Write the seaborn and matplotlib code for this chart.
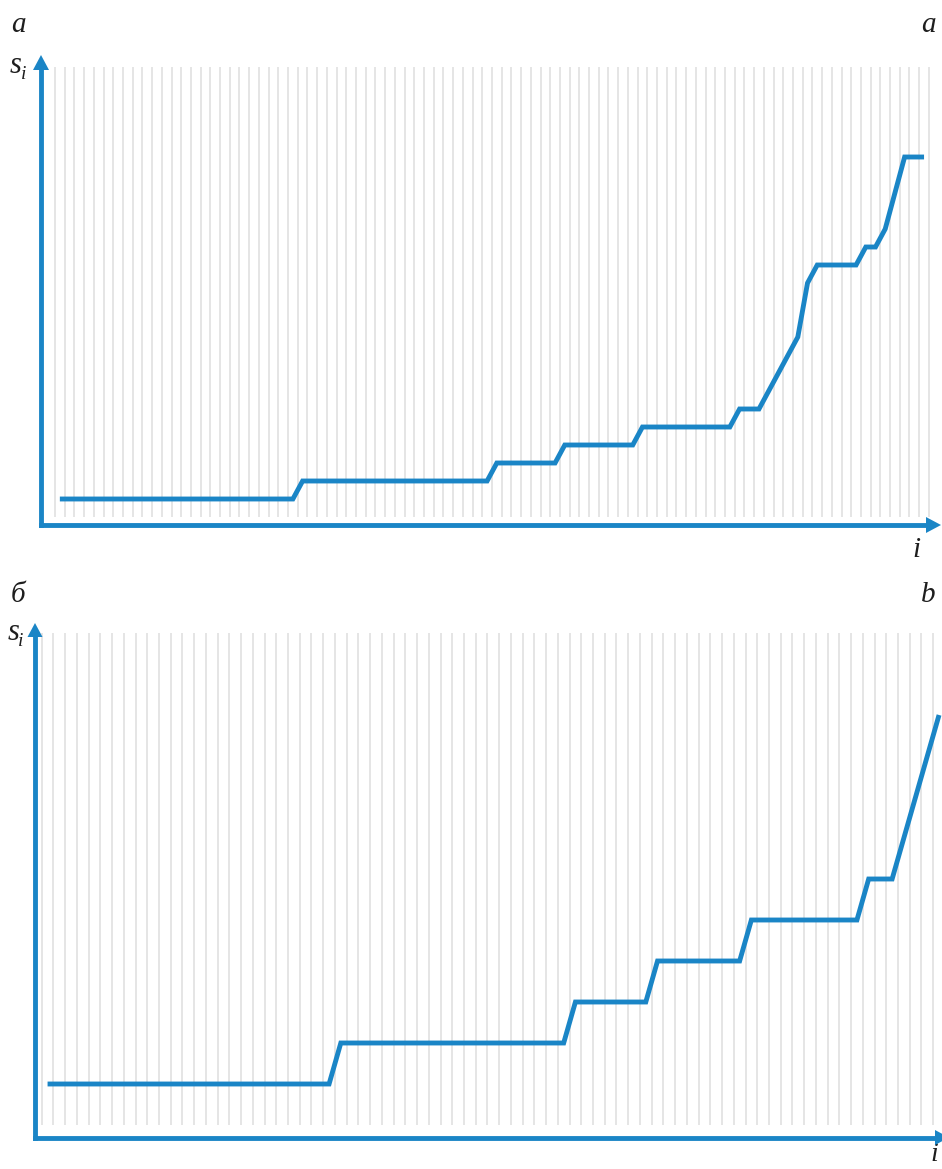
import numpy as np
import pandas as pd
import matplotlib
matplotlib.use("Agg")
import matplotlib.pyplot as plt
import seaborn as sns
from matplotlib.patches import Polygon

# Sorted sequence s_i (in level units), panel "а / a"
s_a = [0, 0, 0, 0, 0, 0, 0, 0, 0, 0,
       0, 0, 0, 0, 0, 0, 0, 0, 0, 0,
       0, 0, 0, 0, 0, 1, 1, 1, 1, 1,
       1, 1, 1, 1, 1, 1, 1, 1, 1, 1,
       1, 1, 1, 1, 1, 2, 2, 2, 2, 2,
       2, 2, 3, 3, 3, 3, 3, 3, 3, 3,
       4, 4, 4, 4, 4, 4, 4, 4, 4, 4,
       5, 5, 5, 6, 7, 8, 9, 12, 13, 13,
       13, 13, 13, 14, 14, 15, 17, 19, 19, 19]

# Sorted sequence s_i, panel "б / b"
s_b = [0, 0, 0, 0, 0, 0, 0, 0, 0, 0,
       0, 0, 0, 0, 0, 0, 0, 0, 0, 0,
       0, 0, 0, 0, 0, 1, 1, 1, 1, 1,
       1, 1, 1, 1, 1, 1, 1, 1, 1, 1,
       1, 1, 1, 1, 1, 2, 2, 2, 2, 2,
       2, 2, 3, 3, 3, 3, 3, 3, 3, 3,
       4, 4, 4, 4, 4, 4, 4, 4, 4, 4,
       5, 5, 5, 6, 7, 8, 9]

panel_labels_a = ["а", "a"]
panel_labels_b = ["б", "b"]
y_label = "s"
y_label_sub = "i"
x_label = "i"

W, H = 942, 1169
BLUE = "#1a85c6"
GRID = "#dedede"
LW = 3.5

sns.set_theme(style="white")
plt.rcParams["font.family"] = ["Liberation Serif", "DejaVu Serif"]

fig = plt.figure(figsize=(W / 100, H / 100), dpi=100)


def data_axes(top, bottom, x0, dx, y0, dy):
    """Axes covering figure rows top..bottom (px); index i sits at x0+dx*(i+0.5),
    level v at y0-dy*v (px from the top)."""
    ax = fig.add_axes([0, 1 - bottom / H, 1, (bottom - top) / H])
    ax.set_xlim((0 - x0) / dx - 0.5, (W - x0) / dx - 0.5)
    ax.set_ylim((y0 - bottom) / dy, (y0 - top) / dy)
    ax.set_axis_off()
    ax.patch.set_alpha(0)
    return ax


def draw_panel(ax, values, grid_top, grid_bottom):
    n = len(values)
    df = pd.DataFrame({"i": np.arange(n), "s": values})
    # one thin vertical rule between neighbouring indices
    ax.vlines(np.arange(n + 1) - 0.5, grid_bottom, grid_top,
              color=GRID, lw=1.1, zorder=1)
    sns.lineplot(data=df, x="i", y="s", ax=ax, color=BLUE, linewidth=LW,
                 legend=False, zorder=3,
                 solid_joinstyle="miter", solid_capstyle="butt")
    ax.set_axis_off()


ax_a = data_axes(0, 565, 55.0, 9.71, 499.0, 18.0)
draw_panel(ax_a, s_a, 24, -1)

ax_b = data_axes(565, 1169, 41.7, 11.73, 1084.0, 41.0)
draw_panel(ax_b, s_b, 11, -1)

# overlay in pixel coordinates for the axis arrows and the lettering
ov = fig.add_axes([0, 0, 1, 1])
ov.set_xlim(0, W)
ov.set_ylim(H, 0)
ov.set_axis_off()
ov.patch.set_alpha(0)


def axis_arrows(ox, oy, ytip, xtip, head, half):
    ov.plot([ox, ox], [oy, ytip + head], color=BLUE, lw=LW,
            solid_capstyle="projecting", zorder=4)
    ov.plot([ox, xtip - head], [oy, oy], color=BLUE, lw=LW,
            solid_capstyle="projecting", zorder=4)
    ov.add_patch(Polygon([[ox - half, ytip + head], [ox + half, ytip + head],
                          [ox, ytip]], closed=True, color=BLUE, lw=0, zorder=4))
    ov.add_patch(Polygon([[xtip - head, oy - half], [xtip - head, oy + half],
                          [xtip, oy]], closed=True, color=BLUE, lw=0, zorder=4))


axis_arrows(41, 525, 55, 941, 15, 8)
axis_arrows(35, 1137.5, 623, 949, 14, 7.5)

txt = dict(style="italic", color="#1e1e1e", ha="center", va="baseline")
FS = 21
FS_SUB = 14

# panel а / a
ov.text(18, 32, panel_labels_a[0], fontsize=FS, **txt)
ov.text(928, 32, panel_labels_a[1], fontsize=FS, **txt)
ov.text(16, 73, y_label, fontsize=FS + 1, **txt)
ov.text(24, 79, y_label_sub, fontsize=FS_SUB, **txt)
ov.text(916, 557, x_label, fontsize=FS, **txt)

# panel б / b
ov.text(18, 602, panel_labels_b[0], fontsize=FS, **txt)
ov.text(928, 602, panel_labels_b[1], fontsize=FS, **txt)
ov.text(14, 640, y_label, fontsize=FS + 1, **txt)
ov.text(21, 646, y_label_sub, fontsize=FS_SUB, **txt)
ov.text(934, 1161, x_label, fontsize=FS - 1, **txt)

fig.savefig("out.png", dpi=100)
